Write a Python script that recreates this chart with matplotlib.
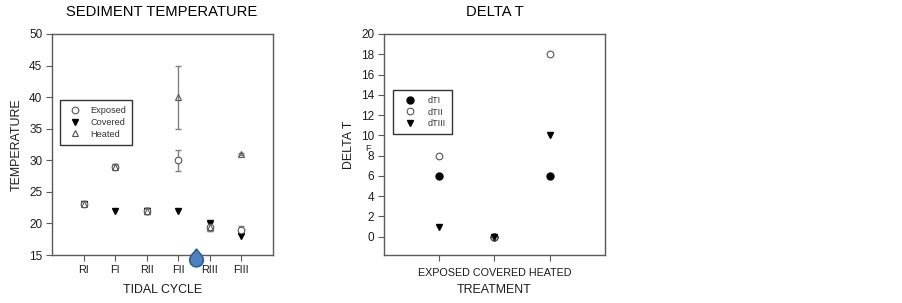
import matplotlib
matplotlib.use("Agg")
import matplotlib.pyplot as plt
from matplotlib.patches import PathPatch
from matplotlib.path import Path

plt.rcParams['font.family'] = ['Liberation Sans', 'DejaVu Sans']

cycles = ["RI", "FI", "RII", "FII", "RIII", "FIII"]
exposed = [23, 29, 22, 30, 19.5, 19]
exposed_err = [0.2, 0.4, 0.5, 1.7, 0.7, 0.6]
covered = [23, 22, 22, 22, 20, 18]
heated = [23, 29, 22, 40, 19.5, 31]
heated_err = [0.2, 0.4, 0.5, 5, 0.7, 0.1]

treatments = ["EXPOSED", "COVERED", "HEATED"]
dti = [6, 0, 6]
dtii = [8, 0, 18]
dtiii = [1, 0, 10]

W, H = 903, 303
AXIS = "#5a5a5a"
TEXT = "#1c1c1c"
ERR = "#808080"


def make_axes(fig, left, right, top, bottom):
    ax = fig.add_axes([left / W, 1 - bottom / H, (right - left) / W, (bottom - top) / H])
    for s in ax.spines.values():
        s.set_color(AXIS)
        s.set_linewidth(1.0)
    ax.tick_params(direction="out", length=4, width=0.8, color=AXIS,
                   labelsize=8.5, labelcolor=TEXT, pad=3)
    return ax


def label(fig, x, y, s, size, rotation=0, color=TEXT):
    # text placed by its centre, in pixels from the top left
    fig.text(x / W, 1 - y / H, s, fontsize=size, color=color, ha="center", va="center", rotation=rotation)


fig = plt.figure(figsize=(W / 100, H / 100), dpi=100)

# left panel
ax1 = make_axes(fig, 52, 273, 34, 255)
x1 = list(range(1, len(cycles) + 1))
ax1.errorbar(x1, exposed, yerr=exposed_err, fmt="none", ecolor=ERR, elinewidth=1, capsize=2, capthick=1)
ax1.errorbar(x1, heated, yerr=heated_err, fmt="none", ecolor=ERR, elinewidth=1, capsize=2, capthick=1)
ax1.plot(x1, covered, "v", color="black", ms=5, ls="none", label="Covered")
ax1.plot(x1, exposed, "o", mfc="white", mec="#555555", mew=0.8, ms=4.8, ls="none", label="Exposed")
ax1.plot(x1, heated, "^", mfc="none", mec="#555555", mew=0.8, ms=4.6, ls="none", label="Heated")
ax1.set_xlim(0, 7)
ax1.set_ylim(15, 50)
ax1.set_xticks(x1)
ax1.set_xticklabels(cycles, fontsize=7.8)
ax1.set_yticks(range(15, 55, 5))
label(fig, 162.5, 290, "TIDAL CYCLE", 8.9)
label(fig, 17, 145, "TEMPERATURE", 8.9, rotation=90)
label(fig, 162, 11.5, "SEDIMENT TEMPERATURE", 10.6, color="black")
h, l = ax1.get_legend_handles_labels()
order = [1, 0, 2]
leg1 = ax1.legend([h[i] for i in order], [l[i] for i in order], loc="upper left",
                  bbox_to_anchor=(60 / W, 1 - 100 / H), bbox_transform=fig.transFigure,
                  fontsize=6.6, frameon=True, fancybox=False, framealpha=1, edgecolor="#333333",
                  labelspacing=0.31, handletextpad=0.6, handlelength=2.07, borderpad=0.65,
                  borderaxespad=0, labelcolor="#333333")

# right panel
ax2 = make_axes(fig, 384, 605, 34, 255)
x2 = list(range(1, len(treatments) + 1))
ax2.plot(x2, dti, "o", color="black", ms=5, ls="none", label="dTI")
ax2.plot(x2, dtii, "o", mfc="white", mec="#555555", mew=0.8, ms=4.8, ls="none", label="dTII")
ax2.plot(x2, dtiii, "v", color="black", ms=5, ls="none", label="dTIII")
ax2.set_xlim(0, 4)
ax2.set_ylim(-1.8, 20)
ax2.set_xticks(x2)
ax2.set_xticklabels([])
ax2.set_yticks(range(0, 22, 2))
label(fig, 494.5, 273, " ".join(treatments), 7.75)
label(fig, 494.5, 290, "TREATMENT", 8.9)
label(fig, 349, 145, "DELTA T", 8.9, rotation=90)
label(fig, 494.5, 11.5, "DELTA T", 10.6, color="black")
label(fig, 368, 148.5, "F", 6.5)
leg2 = ax2.legend(loc="upper left", bbox_to_anchor=(393.5 / W, 1 - 90 / H), bbox_transform=fig.transFigure,
                  fontsize=6.5, frameon=True, fancybox=False, framealpha=1, edgecolor="#333333",
                  labelspacing=0.25, handletextpad=0.78, handlelength=2.25, borderpad=0.7,
                  borderaxespad=0, labelcolor="#333333")

# blue map-pin style drop over the axis
cx, cy = 196.5, 260
r = 6.8
verts = [(cx, cy - 11), (cx + 2.5, cy - 7), (cx + r, cy - 4.5), (cx + r, cy),
         (cx + r, cy + 4), (cx + 3.8, cy + r), (cx, cy + r),
         (cx - 3.8, cy + r), (cx - r, cy + 4), (cx - r, cy),
         (cx - r, cy - 4.5), (cx - 2.5, cy - 7), (cx, cy - 11), (cx, cy - 11)]
codes = [Path.MOVETO] + [Path.CURVE4] * 12 + [Path.CLOSEPOLY]
drop = Path([(x / W, 1 - y / H) for x, y in verts], codes)
fig.add_artist(PathPatch(drop, facecolor="#4f81bd", edgecolor="#2f5f96", linewidth=1.2,
                         transform=fig.transFigure, zorder=10))

fig.savefig("out.png", dpi=100)
